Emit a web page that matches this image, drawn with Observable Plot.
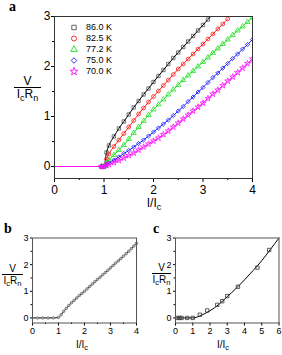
<!DOCTYPE html>
<html>
<head>
<meta charset="utf-8">
<script src="https://cdn.jsdelivr.net/npm/d3@7"></script>
<script src="https://cdn.jsdelivr.net/npm/@observablehq/plot@0.6"></script>
<style>
  body { margin:0; background:#fff; }
  #wrap { position:relative; width:282px; height:355px; overflow:hidden; background:#fff; font-family:"Liberation Sans", Arial, sans-serif; color:#000; }
  .plab { position:absolute; font-family:"Liberation Serif", "Times New Roman", serif; font-weight:bold; }
  .frac { position:absolute; text-align:center; }
  .frac .num { border-bottom:1px solid #000; }
  sub { font-size:75%; vertical-align:-0.3em; line-height:0; }
  .xl { position:absolute; text-align:center; white-space:nowrap; }
  .leg { position:absolute; left:68px; top:22px; font-size:9px; line-height:11px; }
  .leg div { display:flex; align-items:center; height:11px; }
  .leg svg { margin-right:6px; }
</style>
</head>
<body>
<div id="wrap"></div>
<script>
// ---------- Panel a: I/Ic grid and V/(Ic Rn) for each temperature ----------
const iRatio = [0, 0.95, 1.0, 1.05, 1.1, 1.2, 1.3, 1.4, 1.5, 1.6, 1.7, 1.8, 1.9, 2.0, 2.1, 2.2, 2.3, 2.4, 2.5, 2.6, 2.7, 2.8, 2.9, 3.0, 3.1, 3.2, 3.3, 3.4, 3.5, 3.6, 3.7, 3.8, 3.9, 4.0];
const v86  = [0, 0, 0, 0.28, 0.42, 0.60, 0.76, 0.90, 1.04, 1.18, 1.31, 1.44, 1.56, 1.69, 1.81, 1.93, 2.05, 2.17, 2.28, 2.39, 2.50, 2.61, 2.72, 2.83, 2.94, 3.05, null, null, null, null, null, null, null, null];
const v825 = [0, 0, 0, 0.15, 0.25, 0.40, 0.53, 0.66, 0.79, 0.92, 1.05, 1.17, 1.29, 1.40, 1.51, 1.62, 1.73, 1.84, 1.95, 2.05, 2.15, 2.25, 2.35, 2.45, 2.55, 2.65, 2.75, 2.85, 2.95, null, null, null, null, null];
const v772 = [0, 0, 0, 0.07, 0.13, 0.23, 0.33, 0.43, 0.55, 0.67, 0.79, 0.91, 1.03, 1.14, 1.24, 1.34, 1.44, 1.54, 1.63, 1.73, 1.82, 1.91, 2.00, 2.09, 2.18, 2.27, 2.36, 2.45, 2.54, 2.63, 2.72, 2.80, 2.89, 2.98];
const v750 = [0, 0, 0, 0.04, 0.07, 0.13, 0.19, 0.26, 0.32, 0.39, 0.46, 0.53, 0.61, 0.69, 0.77, 0.85, 0.93, 1.02, 1.11, 1.20, 1.30, 1.39, 1.49, 1.58, 1.68, 1.78, 1.87, 1.97, 2.06, 2.16, 2.25, 2.35, 2.44, 2.54];
const v700 = [0, 0, 0, 0.02, 0.04, 0.08, 0.12, 0.17, 0.22, 0.27, 0.33, 0.39, 0.45, 0.51, 0.57, 0.64, 0.71, 0.79, 0.87, 0.95, 1.03, 1.11, 1.19, 1.27, 1.36, 1.45, 1.53, 1.62, 1.71, 1.79, 1.88, 1.97, 2.06, 2.15];
const tempLabels = ["86.0 K", "82.5 K", "77.2 K", "75.0 K", "70.0 K"];
const tempColors = ["#000000", "#ff1a1a", "#22e022", "#1a1aff", "#ff10ff"];
const markerColors = ["#555555", "#ff1a1a", "#22e022", "#1a1aff", "#ff10ff"];
const tempSymbols = ["square", "circle", "triangle", "diamond2", "star"];
const seriesA = [v86, v825, v772, v750, v700];

// ---------- Panel b ----------
const bX = [0, 0.2, 0.4, 0.6, 0.8, 1.0, 1.1, 1.2, 1.3, 1.4, 1.5, 1.6, 1.7, 1.8, 1.9, 2.0, 2.1, 2.2, 2.3, 2.4, 2.5, 2.6, 2.7, 2.8, 2.9, 3.0, 3.1, 3.2, 3.3, 3.4, 3.5, 3.6, 3.7, 3.8, 3.9, 4.0];
const bV = [0, 0, 0, 0, 0, 0.02, 0.12, 0.25, 0.36, 0.47, 0.57, 0.66, 0.75, 0.84, 0.92, 1.00, 1.09, 1.18, 1.27, 1.36, 1.45, 1.53, 1.62, 1.70, 1.79, 1.88, 1.97, 2.06, 2.14, 2.23, 2.32, 2.41, 2.50, 2.60, 2.70, 2.80];

// ---------- Panel c ----------
const cDataX = [0.1, 0.23, 0.35, 0.68, 1.0, 1.41, 1.84, 2.42, 2.71, 3.0, 3.62, 4.75, 5.43];
const cDataV = [0, 0, 0, 0, 0, 0.12, 0.28, 0.49, 0.63, 0.82, 1.17, 1.89, 2.55];
const cFitX = [0, 1.0, 1.2, 1.5, 2.0, 2.5, 3.0, 3.5, 4.0, 4.5, 5.0, 5.5, 6.0];
const cFitV = [0, 0, 0.02, 0.10, 0.27, 0.50, 0.80, 1.10, 1.43, 1.78, 2.15, 2.57, 3.00];

const wrap = document.getElementById("wrap");
const font = '"Liberation Sans", Arial, sans-serif';
const intFmt = (d) => String(d);
const blank = () => "";

function place(el, left, top) {
  el.style.position = "absolute";
  el.style.left = left + "px";
  el.style.top = top + "px";
  wrap.appendChild(el);
}

// ----- Panel a plot -----
const marksA = [
  Plot.axisX({ticks: [0.5, 1.5, 2.5, 3.5], tickSize: 2, tickFormat: blank, label: null}),
  Plot.axisX({ticks: [0, 1, 2, 3, 4], tickSize: 4, tickPadding: 3, tickFormat: intFmt, label: null, fontSize: 12}),
  Plot.axisY({ticks: [0.5, 1.5, 2.5], tickSize: 2, tickFormat: blank, label: null}),
  Plot.axisY({ticks: [0, 1, 2, 3], tickSize: 3, tickPadding: 1, tickFormat: intFmt, label: null, fontSize: 12})
];
seriesA.forEach((vals, k) => {
  marksA.push(Plot.dot(iRatio, {
    x: iRatio, y: vals, filter: (d) => d > 0.9,
    symbol: tempSymbols[k], r: 1.9, fill: "none", stroke: markerColors[k], strokeWidth: 0.8, clip: true
  }));
  marksA.push(Plot.line(iRatio, {x: iRatio, y: vals, stroke: tempColors[k], strokeWidth: 1, curve: "monotone-x", clip: true}));
});
marksA.push(Plot.frame({stroke: "#333", strokeWidth: 1}));

const plotA = Plot.plot({
  width: 282, height: 210,
  marginLeft: 54, marginRight: 30, marginTop: 16, marginBottom: 32,
  x: {domain: [0, 4]},
  y: {domain: [-0.24, 3]},
  style: {fontFamily: font, fontSize: "12px", color: "#000", background: "transparent", overflow: "visible"},
  marks: marksA
});
place(plotA, 0, 0);

// ----- Panel b plot -----
const plotB = Plot.plot({
  width: 141, height: 130,
  marginLeft: 32, marginRight: 5, marginTop: 12.5, marginBottom: 32.5,
  x: {domain: [0, 4]},
  y: {domain: [-0.19, 3]},
  style: {fontFamily: font, fontSize: "9px", color: "#000", background: "transparent", overflow: "visible"},
  marks: [
    Plot.axisX({ticks: [0.5, 1.5, 2.5, 3.5], tickSize: 1.5, tickFormat: blank, label: null}),
    Plot.axisX({ticks: [0, 1, 2, 3, 4], tickSize: 3, tickPadding: 2, tickFormat: intFmt, label: null, fontSize: 9}),
    Plot.axisY({ticks: [0.5, 1.5, 2.5], tickSize: 1.5, tickFormat: blank, label: null}),
    Plot.axisY({ticks: [0, 1, 2, 3], tickSize: 2, tickPadding: 2, tickFormat: intFmt, label: null, fontSize: 9}),
    Plot.line(bX, {x: bX, y: bV, stroke: "#000", strokeWidth: 1, curve: "monotone-x"}),
    Plot.dot(bX, {x: bX, y: bV, filter: (d) => d > 0, r: 1.3, fill: "#bbb", stroke: "#555", strokeWidth: 0.6}),
    Plot.frame({stroke: "#555", strokeWidth: 1})
  ]
});
place(plotB, 0, 225);

// ----- Panel c plot -----
const plotC = Plot.plot({
  width: 141, height: 130,
  marginLeft: 34, marginRight: 3.5, marginTop: 12.5, marginBottom: 32.5,
  x: {domain: [0, 6]},
  y: {domain: [-0.19, 3]},
  style: {fontFamily: font, fontSize: "9px", color: "#000", background: "transparent", overflow: "visible"},
  marks: [
    Plot.axisX({ticks: [0, 1, 2, 3, 4, 5, 6], tickSize: 3, tickPadding: 2, tickFormat: intFmt, label: null, fontSize: 9}),
    Plot.axisY({ticks: [0.5, 1.5, 2.5], tickSize: 1.5, tickFormat: blank, label: null}),
    Plot.axisY({ticks: [0, 1, 2, 3], tickSize: 2, tickPadding: 2, tickFormat: intFmt, label: null, fontSize: 9}),
    Plot.line(cFitX, {x: cFitX, y: cFitV, stroke: "#000", strokeWidth: 1, curve: "monotone-x"}),
    Plot.dot(cDataX, {x: cDataX, y: cDataV, symbol: "square", r: 1.9, fill: "none", stroke: "#333", strokeWidth: 0.8}),
    Plot.frame({stroke: "#555", strokeWidth: 1})
  ]
});
place(plotC, 141, 225);

// ----- Legend for panel a -----
const leg = document.createElement("div");
leg.className = "leg";
const symMap = {square: d3.symbolSquare, circle: d3.symbolCircle, triangle: d3.symbolTriangle, diamond2: d3.symbolDiamond2, star: d3.symbolStar};
tempLabels.forEach((lab, k) => {
  const row = document.createElement("div");
  const svg = d3.create("svg").attr("width", 12).attr("height", 11);
  svg.append("path")
    .attr("transform", "translate(6,5.5)")
    .attr("d", d3.symbol(symMap[tempSymbols[k]], Math.PI * 2.5 * 2.5)())
    .attr("fill", "none").attr("stroke", markerColors[k]).attr("stroke-width", 0.9);
  row.appendChild(svg.node());
  const t = document.createElement("span");
  t.textContent = lab;
  row.appendChild(t);
  leg.appendChild(row);
});
wrap.appendChild(leg);

// ----- Text labels -----
function panelLabel(txt, left, top, size) {
  const d = document.createElement("div");
  d.className = "plab";
  d.textContent = txt;
  d.style.fontSize = size + "px";
  d.style.lineHeight = size + "px";
  place(d, left, top);
}
panelLabel("a", 9, 0, 14);
panelLabel("b", 4, 222, 14);
panelLabel("c", 153, 222, 14);

function fracLabel(left, top, width, size) {
  const d = document.createElement("div");
  d.className = "frac";
  d.style.width = width + "px";
  d.style.fontSize = size + "px";
  d.innerHTML = '<div class="num" style="line-height:' + size + 'px">V</div><div style="line-height:' + (size + 1) + 'px">I<sub>c</sub>R<sub>n</sub></div>';
  place(d, left, top);
}
fracLabel(14, 75, 27, 12);
fracLabel(2, 264, 21, 10);
fracLabel(152, 263, 19, 10);

function xLabel(cx, top, size) {
  const d = document.createElement("div");
  d.className = "xl";
  d.style.fontSize = size + "px";
  d.style.width = "40px";
  d.style.lineHeight = size + "px";
  d.innerHTML = "I/I<sub>c</sub>";
  place(d, cx - 20, top);
}
xLabel(154, 197, 12);
xLabel(82, 340, 10);
xLabel(223, 340, 10);
</script>
</body>
</html>
